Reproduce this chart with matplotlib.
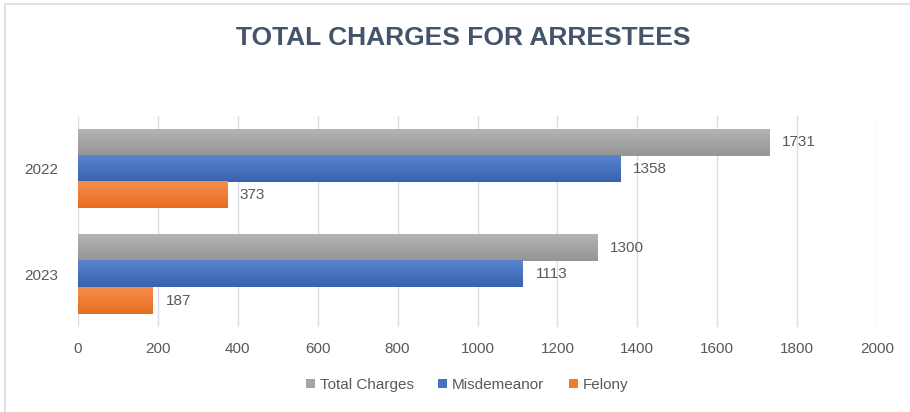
import numpy as np
import matplotlib
matplotlib.use("Agg")
import matplotlib.pyplot as plt
from matplotlib.patches import Rectangle
from matplotlib.colors import to_rgb

years = ["2022", "2023"]
total_charges = [1731, 1300]
misdemeanor = [1358, 1113]
felony = [373, 187]

series = ["Total Charges", "Misdemeanor", "Felony"]
colors = ["#A5A5A5", "#4472C4", "#ED7D31"]
# top / bottom shades for the excel-like gradient fill
shades = [("#B4B4B4", "#959595"), ("#5A84CE", "#3861B0"), ("#F68D4C", "#E66D1F")]
text_col = "#595959"

plt.rcParams["font.family"] = ["Liberation Sans", "DejaVu Sans"]

fig = plt.figure(figsize=(9.10, 4.12), dpi=100)
ax = fig.add_axes([78 / 910, 1 - 327 / 412, (877 - 78) / 910, (327 - 116) / 412])

# light chart border (left and top only visible in the screenshot)
fig.patches.append(Rectangle((5 / 910, -0.1), 1.2, 1 - 4 / 412 + 0.1,
                             transform=fig.transFigure, fill=False,
                             edgecolor="#D6DCE5", linewidth=1.2))

y = np.arange(len(years))
h = 0.25
values = [total_charges, misdemeanor, felony]
for i, (name, vals, c) in enumerate(zip(series, values, colors)):
    pos = y + (i - 1) * h
    bars = ax.barh(pos, vals, height=h, color=c, label=name, zorder=3)
    top, bot = np.array(to_rgb(shades[i][0])), np.array(to_rgb(shades[i][1]))
    grad = np.linspace(0, 1, 32)[:, None, None] * (bot - top) + top
    for b, v in zip(bars, vals):
        y0 = b.get_y()
        ax.imshow(grad, extent=[0, v, y0 + h, y0], aspect="auto", origin="upper",
                  interpolation="bilinear", zorder=3.5)
        ax.text(v + 32, y0 + h / 2, str(v), va="center", ha="left",
                fontsize=11, color=text_col, zorder=4)

ax.set_ylim(1.5, -0.5)
ax.set_xlim(0, 2000)
ax.set_xticks(range(0, 2001, 200))
ax.set_yticks(y)
ax.set_yticklabels(years)
ax.tick_params(axis="both", length=0, labelsize=11, colors=text_col)
ax.tick_params(axis="x", pad=11)
ax.tick_params(axis="y", pad=14)
ax.grid(axis="x", color="#D9DEE8", linewidth=1, zorder=0)
for s in ax.spines.values():
    s.set_visible(False)

fig.text(463 / 910, 1 - 38 / 412, "TOTAL CHARGES FOR ARRESTEES", ha="center",
         va="center", fontsize=19, fontweight="bold", color="#44546A")

handles, labels = ax.get_legend_handles_labels()
fig.legend(handles, labels, loc="center", bbox_to_anchor=(467 / 910, 1 - 385 / 412),
           ncol=3, frameon=False, fontsize=11, labelcolor=text_col,
           handlelength=0.6, handleheight=0.6, handletextpad=0.3, columnspacing=1.6)

fig.savefig("out.png", dpi=100, facecolor="white")
